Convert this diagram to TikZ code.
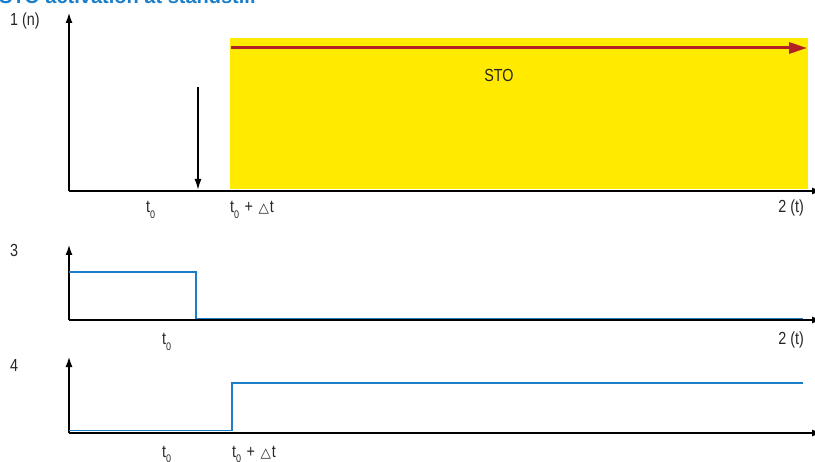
\documentclass[tikz,border=0pt]{standalone}
\usepackage{fontspec}
\setmainfont{Liberation Sans}
\newfontfamily\narrowfont[FakeStretch=0.82]{Liberation Sans}
\newfontfamily\symfont{DejaVu Sans}
\usetikzlibrary{arrows.meta}
\definecolor{bleu}{RGB}{28,126,200}
\definecolor{jaune}{RGB}{255,234,0}
\definecolor{rouge}{RGB}{178,32,36}
\newcommand{\tzero}{t\raisebox{-0.55ex}{\fontsize{11bp}{11bp}\selectfont 0}}
\newcommand{\tdelta}{\tzero\hspace{5.5bp}+\hspace{5.5bp}{\symfont\fontsize{13.5bp}{13.5bp}\selectfont △}\hspace{1bp}t}

\begin{document}
\begin{tikzpicture}[x=1bp, y=-1bp]
	% STYLES
	\tikzstyle{axe} = [line width=2.2bp, -{Latex[length=11bp,width=7bp]}, draw=black]
	\tikzstyle{signal} = [line width=1.8bp, draw=bleu]
	\tikzstyle{fleche} = [line width=1.6bp, -{Latex[length=11bp,width=7bp]}, draw=black]
	\tikzstyle{sto} = [line width=3bp, -{Triangle[length=18bp,width=11bp]}, draw=rouge]
	\tikzstyle{lbl} = [inner sep=0pt, anchor=base west, text=black!85,
		font=\narrowfont\fontsize{17.5bp}{17.5bp}\selectfont]
	\tikzstyle{titre} = [inner sep=0pt, anchor=base west, text=bleu,
		font=\bfseries\fontsize{20bp}{20bp}\selectfont]

	\useasboundingbox (0, 0) rectangle (815, 462);

	% TITRE
	\node[titre] (titre) at (-1, 3.5) {STO activation at standstill};

	% ZONE STO
	\fill[jaune] (230, 38) rectangle (808, 189);
	\coordinate (stodebut) at (231, 48);
	\coordinate (stofin) at (807, 48);
	\draw[sto] (stodebut) -- (stofin);
	\node[lbl, anchor=center] (sto) at (499, 75) {STO};

	% AXES 1
	\coordinate (o1) at (69, 191);
	\coordinate (y1) at (69, 12);
	\coordinate (x1) at (823, 191);
	\draw[axe] (o1) -- (y1);
	\draw[axe] (o1) -- (x1);
	\node[lbl] (n1) at (10, 26) {1 (n)};
	\node[lbl] (t1) at (146, 213) {\tzero};
	\node[lbl] (td1) at (230, 213) {\tdelta};
	\node[lbl, anchor=base east] (t1fin) at (804, 213) {2 (t)};

	% ARRET
	\coordinate (arrethaut) at (198, 87);
	\coordinate (arretbas) at (198, 190);
	\draw[fleche] (arrethaut) -- (arretbas);

	% AXES 3
	\coordinate (o3) at (69, 320);
	\coordinate (y3) at (69, 244);
	\coordinate (x3) at (823, 320);
	\draw[axe] (o3) -- (y3);
	\draw[axe] (o3) -- (x3);
	\node[lbl] (n3) at (10, 257) {3};
	\node[lbl] (t3) at (162, 345) {\tzero};
	\node[lbl, anchor=base east] (t3fin) at (804, 345) {2 (t)};
	\draw[signal] (69, 272) -- (196, 272) -- (196, 318.5) -- (803, 318.5);

	% AXES 4
	\coordinate (o4) at (69, 433);
	\coordinate (y4) at (69, 356);
	\coordinate (x4) at (823, 433);
	\draw[axe] (o4) -- (y4);
	\draw[axe] (o4) -- (x4);
	\node[lbl] (n4) at (10, 372) {4};
	\node[lbl] (t4) at (162, 457) {\tzero};
	\node[lbl] (td4) at (232, 457) {\tdelta};
	\draw[signal] (69, 430.5) -- (232, 430.5) -- (232, 383) -- (803, 383);

\end{tikzpicture}
\end{document}
